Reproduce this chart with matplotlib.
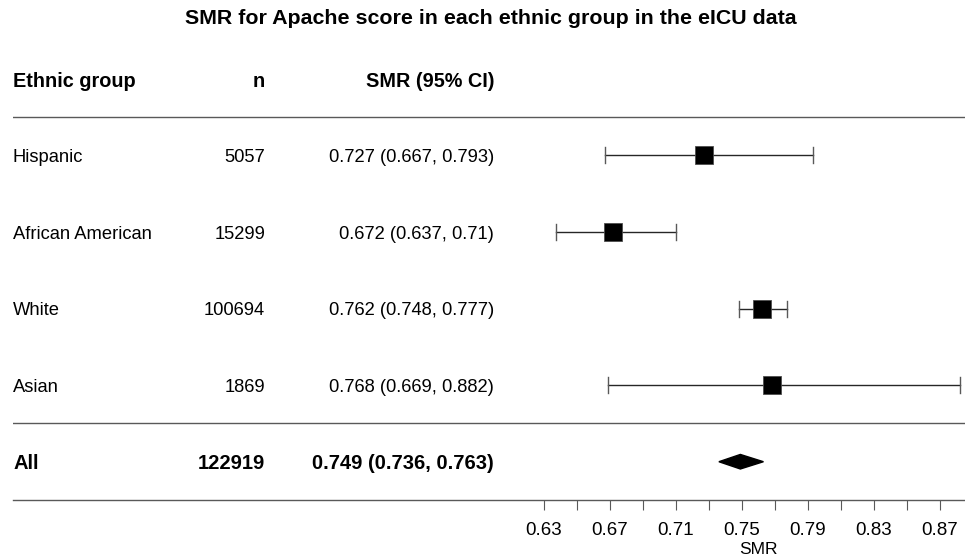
import numpy as np
import matplotlib
matplotlib.use('Agg')
import matplotlib.pyplot as plt
from matplotlib.patches import Polygon
from matplotlib import transforms

plt.rcParams['font.family'] = ['Liberation Sans', 'DejaVu Sans']

groups = ['Hispanic', 'African American', 'White', 'Asian']
n_obs = [5057, 15299, 100694, 1869]
smr = [0.727, 0.672, 0.762, 0.768]
lower = [0.667, 0.637, 0.748, 0.669]
upper = [0.793, 0.710, 0.777, 0.882]
ci_text = ['0.727 (0.667, 0.793)', '0.672 (0.637, 0.71)',
           '0.762 (0.748, 0.777)', '0.768 (0.669, 0.882)']

all_n = 122919
all_smr, all_lo, all_hi = 0.749, 0.736, 0.763
all_text = '0.749 (0.736, 0.763)'

fig = plt.figure(figsize=(9.65, 5.58), dpi=100)
W, H = 965, 558
# axes from x=13px to 965px, from top to y=500px
ax = fig.add_axes([13 / W, (H - 500) / H, (W - 13) / W, 500 / H])
px_per_unit = 1650.0
ax.set_xlim(0.63 - (544 - 13) / px_per_unit, 0.63 + (965 - 544) / px_per_unit)
ax.set_ylim(5.5, -1.03)

for s in ['top', 'right', 'left']:
    ax.spines[s].set_visible(False)
ax.spines['bottom'].set_color('0.35')
ax.spines['bottom'].set_linewidth(1.0)
ax.set_yticks([])
ax.set_xticks(np.round(np.arange(0.63, 0.88, 0.04), 2))
ax.set_xticks(np.round(np.arange(0.65, 0.86, 0.04), 2), minor=True)
ax.tick_params(axis='x', which='both', direction='out', length=7.5, width=0.8,
               color='0.35', labelsize=13.5, pad=8)
ax.xaxis.set_major_formatter(matplotlib.ticker.FormatStrFormatter('%.2f'))

ax.axhline(0.5, color='0.35', lw=1.0)
ax.axhline(4.5, color='0.35', lw=1.0)

rows = np.arange(1, len(groups) + 1)
for y, m, lo, hi in zip(rows, smr, lower, upper):
    ax.plot([lo, hi], [y, y], color='0.15', lw=1.0)
    ax.plot([lo, lo], [y - 0.105, y + 0.105], color='0.35', lw=1.0)
    ax.plot([hi, hi], [y - 0.105, y + 0.105], color='0.35', lw=1.0)
    ax.plot(m, y, marker='s', ms=13, color='black', mec='0.3', mew=0.6)

dh = 0.095
ax.add_patch(Polygon([[all_lo, 5], [all_smr, 5 - dh], [all_hi, 5], [all_smr, 5 + dh]],
                     closed=True, color='black'))

# table text
off = 0.028
tr = transforms.blended_transform_factory(fig.transFigure, ax.transData)
hdr = dict(fontsize=14.3, fontweight='bold', va='center', transform=tr)
ax.text(13 / W, off, 'Ethnic group', ha='left', **hdr)
ax.text(265 / W, off, 'n', ha='right', **hdr)
ax.text(494 / W, off, 'SMR (95% CI)', ha='right', **hdr)

body = dict(fontsize=13.2, va='center', transform=tr)
for y, g, n, t in zip(rows, groups, n_obs, ci_text):
    ax.text(13 / W, y + off, g, ha='left', **body)
    ax.text(265 / W, y + off, str(n), ha='right', **body)
    ax.text(494 / W, y + off, t, ha='right', **body)

tot = dict(fontsize=14.5, fontweight='bold', va='center', transform=tr)
ax.text(13 / W, 5 + off, 'All', ha='left', **tot)
ax.text(265 / W, 5 + off, str(all_n), ha='right', **tot)
ax.text(494 / W, 5 + off, all_text, ha='right', **tot)

tr2 = transforms.blended_transform_factory(ax.transData, fig.transFigure)
ax.text(0.7597, 1 - 550 / H, 'SMR', ha='center', va='center', fontsize=12.5, transform=tr2)

fig.text(491 / W, 1 - 19 / H, 'SMR for Apache score in each ethnic group in the eICU data',
         ha='center', va='center', fontsize=15.4, fontweight='bold')

fig.savefig('out.png', dpi=100)
